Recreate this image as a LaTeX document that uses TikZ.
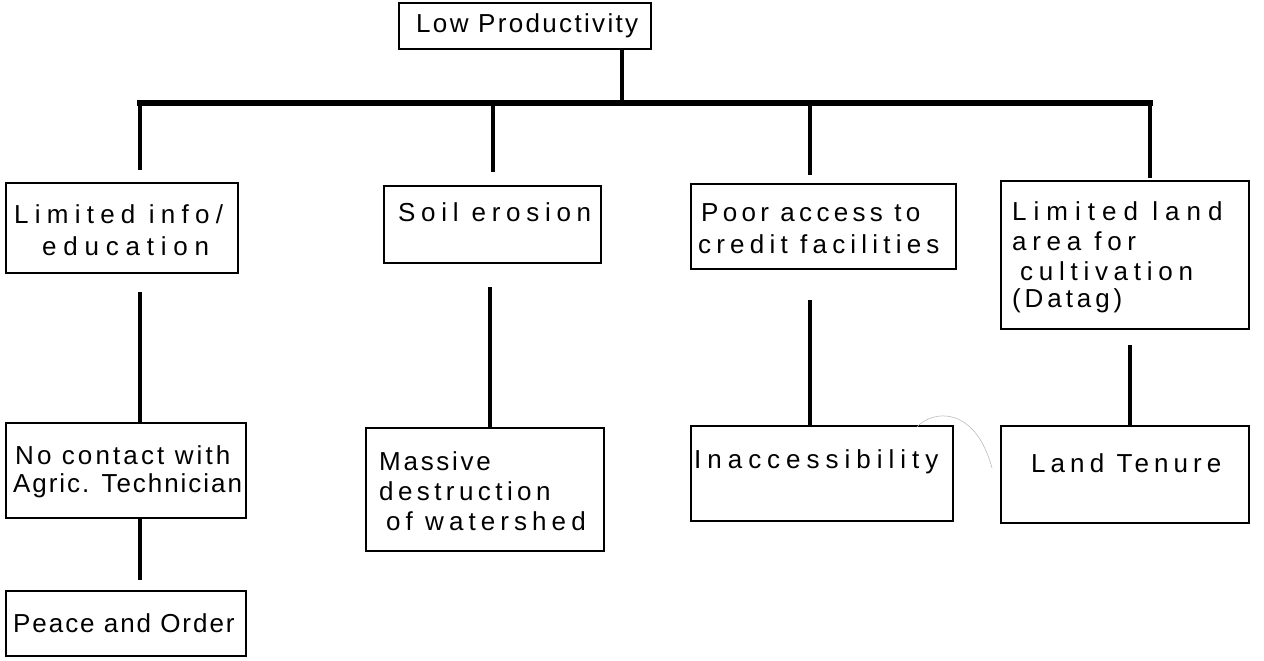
\documentclass[tikz,border=0pt]{standalone}
\usepackage{fontspec}
\setmainfont{Liberation Sans}
\begin{document}
\begin{tikzpicture}[x=1pt,y=-1pt,
  box/.style={draw=black, line width=2.4pt, anchor=north west, inner sep=0pt},
  conn/.style={draw=black, line width=4.5pt},
  bar/.style={draw=black, line width=6pt, line cap=rect},
  txt/.style={anchor=west, inner sep=0pt, font=\fontsize{26}{30}\selectfont\addfontfeature{LetterSpace=#1}}
]
\useasboundingbox (0,0) rectangle (1264,661);
% boxes
\node[box, minimum width=252, minimum height=46] (top) at (398,2) {};
\node[box, minimum width=232, minimum height=90] (lim) at (5,182) {};
\node[box, minimum width=217, minimum height=77] (soil) at (383,185) {};
\node[box, minimum width=265, minimum height=85] (poor) at (690,183) {};
\node[box, minimum width=248, minimum height=148] (land) at (1000,180) {};
\node[box, minimum width=240, minimum height=95] (noc) at (5,422) {};
\node[box, minimum width=238, minimum height=123] (mass) at (365,427) {};
\node[box, minimum width=262, minimum height=95] (inac) at (690,425) {};
\node[box, minimum width=248, minimum height=97] (ten) at (1000,425) {};
\node[box, minimum width=240, minimum height=65] (peace) at (5,590) {};
% texts
\node[txt=9] (ttop) at (416,26) {Low Productivity};
\node[txt=24] (tlim1) at (14,214) {Limited info/};
\node[txt=26] (tlim2) at (42,246) {education};
\node[txt=22] (tsoil) at (398,212) {Soil erosion};
\node[txt=16.5] (tpoor1) at (701,213) {Poor access to};
\node[txt=20] (tpoor2) at (698,244) {credit facilities};
\node[txt=27] (tland1) at (1012,211) {Limited land};
\node[txt=22] (tland2) at (1012,241) {area for};
\node[txt=22] (tland3) at (1020,271) {cultivation};
\node[txt=15] (tland4) at (1012,301) {(Datag)};
\node[txt=12] (tnoc1) at (15,455) {No contact with};
\node[txt=7.5] (tnoc2) at (13,486) {Agric. Technician};
\node[txt=10.5] (tmass1) at (379,461) {Massive};
\node[txt=17] (tmass2) at (379,491) {destruction};
\node[txt=19.5] (tmass3) at (386,521) {of watershed};
\node[txt=23] (tinac) at (694,462) {Inaccessibility};
\node[txt=19.5] (tten) at (1031,463) {Land Tenure};
\node[txt=7.5] (tpeace) at (13,623) {Peace and Order};
% bar and connectors
\coordinate (bl) at (140,103);
\coordinate (br) at (1150,103);
\coordinate (hub) at (622,103);
\draw[conn] (top.south -| hub) -- (hub);
\draw[bar] (bl) -- (br);
\coordinate (d1) at (140,170);
\coordinate (d2) at (493,172);
\coordinate (d3) at (810,175);
\coordinate (d4) at (1150,178);
\draw[conn] (bl) -- (d1);
\draw[conn] (d2 |- bl) -- (d2);
\draw[conn] (d3 |- bl) -- (d3);
\draw[conn] (br) -- (d4);
\coordinate (e1) at (140,292);
\coordinate (e2) at (490,287);
\coordinate (e3) at (810,300);
\coordinate (e4) at (1130,345);
\coordinate (e5) at (140,580);
\draw[conn] (e1) -- (noc.north -| e1);
\draw[conn] (e2) -- (mass.north -| e2);
\draw[conn] (e3) -- (inac.north -| e3);
\draw[conn] (e4) -- (ten.north -| e4);
\draw[conn] (noc.south -| e5) -- (e5);
% faint scan arc
\draw[gray!60, line width=0.5pt] (917,427) .. controls (932,410) and (975,405) .. (992,468);
\end{tikzpicture}
\end{document}
